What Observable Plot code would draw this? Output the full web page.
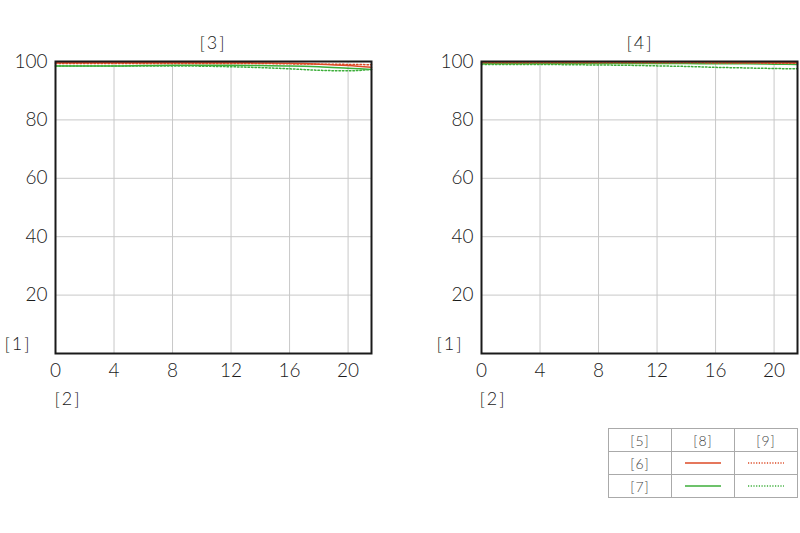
<!DOCTYPE html>
<html>
<head>
<meta charset="utf-8">
<script src="https://cdn.jsdelivr.net/npm/d3@7"></script>
<script src="https://cdn.jsdelivr.net/npm/@observablehq/plot@0.6"></script>
<style>
  html, body { margin: 0; padding: 0; background: #fff; width: 800px; height: 533px; overflow: hidden; }
  body { position: relative; font-family: Lato, "Noto Sans", sans-serif; font-weight: 300; color: #1a1a1a; }
  .chart { position: absolute; top: 0; }
  .lbl { position: absolute; font-size: 18px; color: #1a1a1a; transform: translate(-50%, -50%); white-space: nowrap; letter-spacing: 2px; }
  table.legend { position: absolute; left: 608px; top: 428px; border-collapse: collapse; font-size: 14px; color: #444; letter-spacing: 1px; }
  table.legend td { border: 1px solid #aaa; width: 62px; height: 22px; text-align: center; padding: 0; }
</style>
</head>
<body>
<div id="c1" class="chart" style="left:0px"></div>
<div id="c2" class="chart" style="left:426px"></div>
<div class="lbl" style="left:213px; top:42px">[3]</div>
<div class="lbl" style="left:640px; top:42px">[4]</div>
<div class="lbl" style="left:18px; top:343px">[1]</div>
<div class="lbl" style="left:68px; top:398px">[2]</div>
<div class="lbl" style="left:450px; top:343px">[1]</div>
<div class="lbl" style="left:493px; top:398px">[2]</div>
<table class="legend">
  <tr><td>[5]</td><td>[8]</td><td>[9]</td></tr>
  <tr><td>[6]</td><td id="l1"></td><td id="l2"></td></tr>
  <tr><td>[7]</td><td id="l3"></td><td id="l4"></td></tr>
</table>
<script>
// image height (mm) from centre
const xs = [0, 2, 4, 6, 8, 10, 12, 14, 16, 18, 20, 21.6];
const xTicks = [0, 4, 8, 12, 16, 20];
const yTicks = [20, 40, 60, 80, 100];

// left panel [3]
const redSolidL   = [99.6, 99.6, 99.6, 99.6, 99.6, 99.6, 99.6, 99.5, 99.4, 99.1, 98.6, 98.0];
const redDotL     = [99.3, 99.3, 99.3, 99.3, 99.3, 99.3, 99.3, 99.3, 99.2, 99.1, 99.0, 98.9];
const greenSolidL = [98.5, 98.5, 98.5, 98.6, 98.7, 98.7, 98.7, 98.6, 98.5, 98.2, 97.7, 97.3];
const greenDotL   = [98.5, 98.5, 98.5, 98.5, 98.5, 98.4, 98.2, 97.9, 97.5, 97.0, 96.8, 97.3];

// right panel [4]
const redSolidR   = [99.8, 99.8, 99.8, 99.8, 99.8, 99.8, 99.8, 99.8, 99.8, 99.7, 99.7, 99.6];
const redDotR     = [99.6, 99.6, 99.6, 99.6, 99.6, 99.6, 99.6, 99.6, 99.5, 99.5, 99.4, 99.4];
const greenSolidR = [99.3, 99.3, 99.3, 99.3, 99.3, 99.3, 99.3, 99.3, 99.2, 99.2, 99.1, 99.0];
const greenDotR   = [99.0, 99.0, 99.0, 98.9, 98.8, 98.7, 98.5, 98.3, 98.0, 97.8, 97.6, 97.5];

const RED = "#dc4a26", GREEN = "#3cae3a";

function rows(vals) { return xs.map((x, i) => ({x, y: vals[i]})); }

function panel(series, width, marginRight) {
  const marks = [
    Plot.gridX([4, 8, 12, 16, 20], {stroke: "#c8c8c8", strokeOpacity: 1, strokeWidth: 1}),
    Plot.gridY([20, 40, 60, 80], {stroke: "#c8c8c8", strokeOpacity: 1, strokeWidth: 1}),
    Plot.axisX({ticks: xTicks, tickSize: 0, tickPadding: 10, tickFormat: d => d, label: null}),
    Plot.axisY({ticks: yTicks, tickSize: 0, tickPadding: 8, tickFormat: d => d, label: null}),
    Plot.line(rows(series.gDot), {x: "x", y: "y", stroke: GREEN, strokeWidth: 1.5, strokeDasharray: "1.5,2", curve: "monotone-x"}),
    Plot.line(rows(series.gSol), {x: "x", y: "y", stroke: GREEN, strokeWidth: 1.5, curve: "monotone-x"}),
    Plot.line(rows(series.rDot), {x: "x", y: "y", stroke: RED, strokeWidth: 1.5, strokeDasharray: "1.5,2", curve: "monotone-x"}),
    Plot.line(rows(series.rSol), {x: "x", y: "y", stroke: RED, strokeWidth: 1.5, curve: "monotone-x"}),
    Plot.frame({stroke: "#1a1a1a", strokeWidth: 2})
  ];
  return Plot.plot({
    width, height: 420,
    marginLeft: 55, marginRight, marginTop: 61, marginBottom: 67,
    x: {domain: [0, 21.6], axis: null},
    y: {domain: [0, 100], axis: null},
    style: {fontSize: "19px", fontFamily: "Lato, 'Noto Sans', sans-serif", fontWeight: 300, color: "#1a1a1a", background: "transparent", overflow: "visible"},
    marks
  });
}

document.getElementById("c1").appendChild(panel({rSol: redSolidL, rDot: redDotL, gSol: greenSolidL, gDot: greenDotL}, 400, 29));
document.getElementById("c2").appendChild(panel({rSol: redSolidR, rDot: redDotR, gSol: greenSolidR, gDot: greenDotR}, 374, 3));

// legend samples
function sample(id, color, dashed) {
  const ns = "http://www.w3.org/2000/svg";
  const s = document.createElementNS(ns, "svg");
  s.setAttribute("width", 50); s.setAttribute("height", 6);
  s.style.display = "block"; s.style.margin = "0 auto";
  const l = document.createElementNS(ns, "line");
  l.setAttribute("x1", 7); l.setAttribute("x2", 43); l.setAttribute("y1", 3); l.setAttribute("y2", 3);
  l.setAttribute("stroke", color); l.setAttribute("stroke-width", 1.3);
  if (dashed) l.setAttribute("stroke-dasharray", "1.2,1.5");
  s.appendChild(l);
  document.getElementById(id).appendChild(s);
}
sample("l1", RED, false); sample("l2", RED, true);
sample("l3", GREEN, false); sample("l4", GREEN, true);
</script>
</body>
</html>
